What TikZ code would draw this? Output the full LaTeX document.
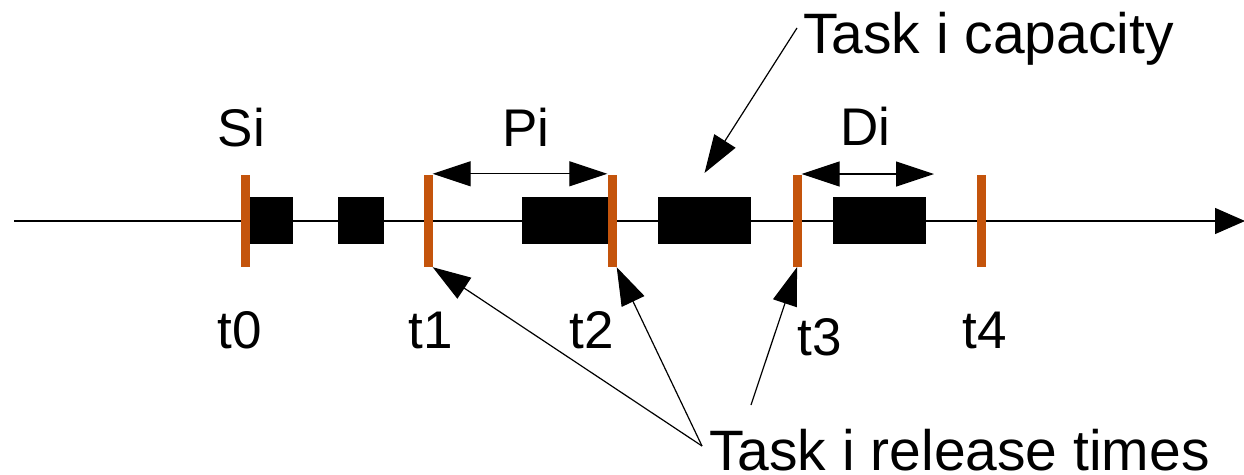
\documentclass[tikz,border=0pt]{standalone}
\usepackage{fontspec}
\setmainfont{Liberation Sans}
\usetikzlibrary{arrows.meta}
\begin{document}
\begin{tikzpicture}[x=1pt,y=-1pt,
  lbl/.style={inner sep=0pt,anchor=base,font=\fontsize{53}{53}\selectfont},
  big/.style={inner sep=0pt,anchor=base west,font=\fontsize{57}{57}\selectfont},
  tick/.style={draw=none,fill={rgb,255:red,196;green,84;blue,12},minimum width=9pt,minimum height=92pt,inner sep=0pt},
  job/.style={fill=black,inner sep=0pt,minimum height=47pt},
  bigtip/.style={-{Triangle[length=38pt,width=25pt]}},
  dbltip/.style={{Triangle[length=38pt,width=25pt]}-{Triangle[length=38pt,width=25pt]}},
  thin/.style={line width=1.2pt}]
\useasboundingbox (0,0) rectangle (1244,474);
% time axis
\coordinate (ax0) at (14,221);
\coordinate (ax1) at (1245,221);
\draw[thin,-{Triangle[length=30pt,width=26pt]}] (ax0) -- (ax1);
% executions of task i
\node[job,minimum width=43pt] (j0) at (271.5,220.5) {};
\node[job,minimum width=46pt] (j1) at (361,220.5) {};
\node[job,minimum width=88pt] (j2) at (566,220.5) {};
\node[job,minimum width=93pt] (j3) at (704.5,220.5) {};
\node[job,minimum width=93pt] (j4) at (879.5,220.5) {};
% release instants
\node[tick] (r0) at (245.5,221) {};
\node[tick] (r1) at (428,221) {};
\node[tick] (r2) at (612,221) {};
\node[tick] (r3) at (797,221) {};
\node[tick] (r4) at (981,221) {};
% tick labels
\node[lbl] (t0) at (240,348) {t0};
\node[lbl] (t1) at (431,348) {t1};
\node[lbl] (t2) at (592,348) {t2};
\node[lbl] (t3) at (820,355) {t3};
\node[lbl] (t4) at (985,348) {t4};
% parameters
\node[lbl] (si) at (241.5,146) {Si};
\node[lbl] (pi) at (526,146) {Pi};
\node[lbl] (di) at (865.5,145) {Di};
\draw[thin,dbltip] (r1.north east) ++(0,-1) coordinate (pa) -- (r2.north west |- pa);
\coordinate (dend) at (934,174);
\draw[thin,dbltip] (r3.north east |- dend) -- (dend);
% annotations
\node[big] (cap) at (803,53) {Task i capacity};
\coordinate (capfoot) at (797,28);
\draw[thin,bigtip] (capfoot) -- (j3.north |- 0,173);
\node[big] (rel) at (709,470) {Task i release times};
\coordinate (relfoot) at (702,446);
\coordinate (relfoot2) at (751,405);
\draw[thin,bigtip] (relfoot) -- (r1.south east);
\draw[thin,bigtip] (relfoot) -- (r2.south east);
\draw[thin,bigtip] (relfoot2) -- (r3.south);
\end{tikzpicture}
\end{document}
